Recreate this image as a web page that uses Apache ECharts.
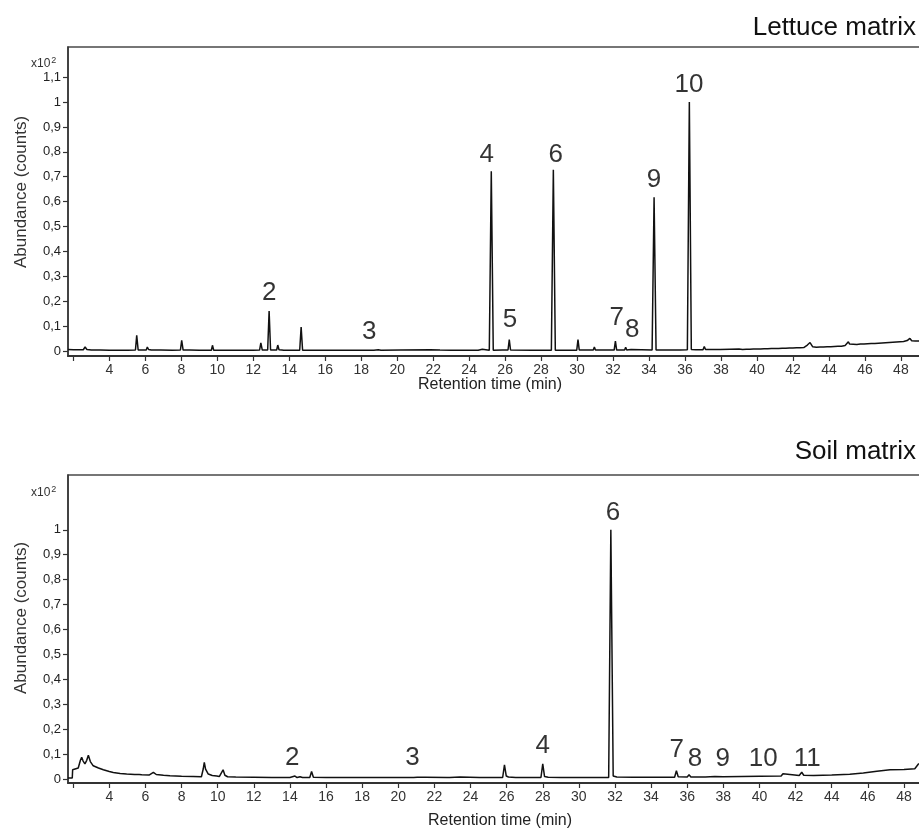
<!DOCTYPE html>
<html>
<head>
<meta charset="utf-8">
<script src="https://cdn.jsdelivr.net/npm/echarts@6/dist/echarts.min.js"></script>
<style>
html,body{margin:0;padding:0;background:#fff;}
#chart{width:919px;height:829px;}
</style>
</head>
<body>
<div id="chart"></div>
<script>
// ---------- DATA ----------
const panelTitles = ['Lettuce matrix', 'Soil matrix'];
const xAxisTitle = 'Retention time (min)';
const yAxisTitle = 'Abundance (counts)';
const xTickValues = [2,4,6,8,10,12,14,16,18,20,22,24,26,28,30,32,34,36,38,40,42,44,46,48];
const xLabelValues = [4,6,8,10,12,14,16,18,20,22,24,26,28,30,32,34,36,38,40,42,44,46,48];
const yTickValuesTop = [0,0.1,0.2,0.3,0.4,0.5,0.6,0.7,0.8,0.9,1,1.1];
const yTickValuesBottom = [0,0.1,0.2,0.3,0.4,0.5,0.6,0.7,0.8,0.9,1];

// Lettuce chromatogram [time (min), abundance x10^2]
const lettuceTrace = [
[1.70,0.006],[2.0,0.005],[2.3,0.005],[2.55,0.005],[2.65,0.016],[2.75,0.006],[3.0,0.004],[3.5,0.004],[4.0,0.003],[4.5,0.003],[5.0,0.003],
[5.45,0.004],[5.52,0.063],[5.6,0.004],[6.05,0.004],[6.11,0.016],[6.18,0.006],[6.26,0.011],[6.33,0.004],[6.72,0.004],[6.78,0.011],[6.85,0.004],
[7.5,0.003],[7.95,0.004],[8.02,0.043],[8.1,0.004],[8.33,0.004],[8.39,0.012],[8.46,0.004],[9.0,0.003],[9.67,0.003],[9.73,0.023],[9.8,0.003],
[10.5,0.003],[11.0,0.003],[11.5,0.003],[12.0,0.003],[12.35,0.004],[12.42,0.033],[12.5,0.004],[12.8,0.004],[12.88,0.161],[12.96,0.004],
[13.3,0.004],[13.36,0.024],[13.43,0.005],[13.58,0.004],[13.64,0.008],[13.7,0.003],[14.1,0.003],[14.58,0.003],[14.66,0.096],[14.74,0.003],
[15.5,0.003],[16.5,0.003],[16.55,0.004],[16.6,0.003],[17.5,0.003],[18.5,0.003],[18.59,0.007],[18.7,0.003],[18.95,0.005],[19.1,0.003],
[20.2,0.004],[20.3,0.003],[21.83,0.005],[21.9,0.003],[22.38,0.004],[22.45,0.003],[23.05,0.003],[23.13,0.009],[23.2,0.003],[24.5,0.003],
[24.73,0.007],[24.8,0.003],[25.12,0.003],[25.23,0.722],[25.34,0.003],[25.85,0.004],[25.9,0.010],[25.97,0.004],[26.16,0.004],[26.23,0.046],[26.3,0.004],
[27.5,0.003],[28.57,0.003],[28.68,0.728],[28.79,0.003],[29.98,0.003],[30.05,0.046],[30.12,0.004],[30.58,0.004],[30.63,0.010],[30.7,0.004],
[30.9,0.004],[30.96,0.016],[31.02,0.004],[32.06,0.004],[32.13,0.040],[32.2,0.004],[32.64,0.004],[32.7,0.015],[32.76,0.004],[33.0,0.006],[33.1,0.004],
[34.17,0.004],[34.28,0.618],[34.39,0.004],[35.6,0.004],[35.67,0.007],[35.74,0.004],[36.13,0.005],[36.24,1.0],[36.35,0.006],[36.6,0.005],
[37.0,0.005],[37.07,0.018],[37.14,0.006],[37.82,0.006],[37.89,0.012],[37.96,0.006],[38.5,0.007],
[39.0,0.008],[39.1,0.011],[39.2,0.006],[39.3,0.010],[39.4,0.007],[39.5,0.011],[39.6,0.007],[39.7,0.012],[39.8,0.008],[39.9,0.012],
[40.0,0.008],[40.1,0.013],[40.2,0.008],[40.3,0.013],[40.4,0.009],[40.5,0.013],[40.6,0.009],[40.7,0.014],[40.8,0.010],[40.9,0.014],
[41.0,0.010],[41.1,0.015],[41.2,0.010],[41.3,0.015],[41.4,0.011],[41.5,0.016],[41.6,0.011],[41.7,0.016],[41.8,0.012],[41.9,0.017],
[42.0,0.012],[42.1,0.017],[42.2,0.013],[42.3,0.018],[42.4,0.013],[42.5,0.018],[42.6,0.014],[42.7,0.020],[42.8,0.024],[42.9,0.030],
[42.95,0.034],[43.0,0.026],[43.1,0.017],[43.2,0.021],[43.3,0.015],[43.4,0.020],[43.5,0.016],[43.6,0.021],[43.7,0.016],[43.8,0.022],
[43.9,0.017],[44.0,0.022],[44.1,0.017],[44.2,0.023],[44.3,0.018],[44.4,0.023],[44.5,0.019],[44.6,0.024],[44.7,0.019],[44.8,0.025],
[44.9,0.022],[45.0,0.030],[45.08,0.037],[45.15,0.028],[45.25,0.022],[45.35,0.027],[45.45,0.021],[45.55,0.026],[45.65,0.022],[45.75,0.028],
[45.85,0.023],[45.95,0.028],[46.05,0.024],[46.15,0.029],[46.25,0.024],[46.35,0.030],[46.45,0.025],[46.55,0.030],[46.65,0.026],[46.75,0.031],
[46.85,0.026],[46.95,0.032],[47.05,0.027],[47.15,0.033],[47.25,0.028],[47.35,0.034],[47.45,0.029],[47.55,0.035],[47.65,0.030],[47.75,0.036],
[47.85,0.031],[47.95,0.037],[48.05,0.032],[48.15,0.038],[48.25,0.035],[48.35,0.042],[48.45,0.048],[48.5,0.051],[48.6,0.041],[48.7,0.046],
[48.8,0.040],[48.9,0.045],[49.0,0.040],[49.1,0.044],[49.2,0.041],[49.3,0.043]
];

// Soil chromatogram [time (min), abundance x10^2]
const soilTrace = [
[1.71,0.004],[1.95,0.004],[1.97,0.037],[2.28,0.044],[2.40,0.075],[2.47,0.087],[2.55,0.072],[2.65,0.061],[2.75,0.075],[2.84,0.095],[2.95,0.070],
[3.11,0.053],[3.4,0.044],[3.67,0.037],[4.0,0.030],[4.22,0.026],[4.6,0.022],[4.96,0.020],[5.4,0.018],[5.65,0.018],[5.72,0.021],[5.8,0.017],
[6.2,0.016],[6.44,0.027],[6.6,0.018],[7.0,0.015],[7.36,0.013],[8.0,0.011],[8.65,0.010],[9.1,0.009],[9.2,0.040],[9.26,0.067],[9.33,0.040],
[9.48,0.020],[9.7,0.014],[9.95,0.012],[10.09,0.010],[10.2,0.012],[10.3,0.037],[10.4,0.015],[10.55,0.009],[11.0,0.008],[12.0,0.007],[13.0,0.006],
[14.0,0.006],[14.1,0.006],[14.28,0.012],[14.4,0.006],[14.56,0.009],[14.7,0.006],[15.1,0.006],[15.2,0.030],[15.3,0.007],[16.0,0.006],[17.0,0.006],
[18.0,0.006],[19.0,0.006],[19.45,0.006],[19.54,0.012],[19.62,0.006],[20.5,0.006],[20.85,0.006],[20.93,0.012],[21.05,0.007],[21.3,0.007],
[21.39,0.015],[21.5,0.007],[22.7,0.006],[22.77,0.009],[22.85,0.006],[23.42,0.008],[23.5,0.006],[24.5,0.006],[25.0,0.006],[25.78,0.006],
[25.88,0.057],[25.98,0.012],[26.1,0.008],[26.5,0.006],[27.0,0.006],[27.9,0.006],[28.0,0.061],[28.1,0.010],[28.3,0.007],[29.0,0.006],
[30.0,0.006],[30.05,0.009],[30.1,0.006],[31.0,0.006],[31.65,0.006],[31.77,1.0],[31.9,0.012],[32.1,0.008],[33.0,0.007],[34.0,0.007],
[35.3,0.007],[35.4,0.033],[35.5,0.009],[36.0,0.008],[36.1,0.017],[36.2,0.008],[37.0,0.008],[37.53,0.010],[38.0,0.009],[39.0,0.010],
[40.0,0.011],[41.2,0.012],[41.3,0.021],[41.4,0.013],[42.2,0.014],[42.34,0.027],[42.45,0.015],[43.0,0.014],[44.0,0.016],[45.0,0.019],
[45.75,0.024],[46.5,0.031],[47.23,0.037],[48.0,0.038],[48.6,0.041],[48.8,0.060],[48.95,0.066],[49.2,0.068]
];

// Peak number labels [name, time, abundance position]
const lettuceLabels = [['2',12.88,0.234],['3',18.45,0.078],['4',24.98,0.787],['5',26.27,0.125],['6',28.81,0.787],
  ['7',32.2,0.133],['8',33.07,0.084],['9',34.28,0.687],['10',36.22,1.068]];
const soilLabels = [['2',14.13,0.084],['3',20.78,0.084],['4',28.0,0.134],['6',31.89,1.068],['7',35.42,0.118],
  ['8',36.43,0.081],['9',37.96,0.081],['10',40.21,0.081],['11',42.65,0.081]];

// ---------- CHART ----------
const FONT = '"Liberation Sans", Arial, sans-serif';
const chart = echarts.init(document.getElementById('chart'), null, {renderer: 'canvas'});

function xAxisCfg(idx, min, max) {
  return {
    type: 'value', gridIndex: idx, min: min, max: max,
    axisLine: {show: true, onZero: false, lineStyle: {color: '#333', width: 2}},
    axisTick: {show: true, inside: false, length: 5, customValues: xTickValues, lineStyle: {color: '#333', width: 1.2}},
    axisLabel: {show: true, customValues: xLabelValues, margin: 7, color: '#333', fontSize: 14, fontFamily: FONT},
    splitLine: {show: false}
  };
}
function yAxisCfg(idx, min, max, ticks) {
  return {
    type: 'value', gridIndex: idx, min: min, max: max,
    axisLine: {show: true, onZero: false, lineStyle: {color: '#333', width: 1.5}},
    axisTick: {show: true, length: 5, customValues: ticks, lineStyle: {color: '#333', width: 1.2}},
    axisLabel: {show: true, customValues: ticks, margin: 7, color: '#222', fontSize: 13, fontFamily: FONT,
      formatter: v => String(v).replace('.', ',')},
    splitLine: {show: false}
  };
}
function labelData(arr) {
  return arr.map(d => ({name: d[0], value: [d[1], d[2]]}));
}
function labelSeries(idx, arr) {
  return {
    type: 'scatter', xAxisIndex: idx, yAxisIndex: idx, symbolSize: 1, silent: true,
    itemStyle: {color: 'rgba(0,0,0,0)'},
    data: labelData(arr),
    label: {show: true, position: 'inside', formatter: '{b}', color: '#000', fontSize: 26, fontFamily: FONT}
  };
}
function traceSeries(idx, data) {
  return {
    type: 'line', xAxisIndex: idx, yAxisIndex: idx, data: data, symbol: 'none', silent: true,
    lineStyle: {color: '#111', width: 1.5}
  };
}

const option = {
  animation: false,
  backgroundColor: '#fff',
  grid: [
    {left: 68, top: 47, width: 857, height: 309, show: true, borderColor: '#4a4a4a', borderWidth: 1.5, backgroundColor: 'transparent', outerBoundsMode: 'none', containLabel: false},
    {left: 68, top: 475, width: 857, height: 308, show: true, borderColor: '#4a4a4a', borderWidth: 1.5, backgroundColor: 'transparent', outerBoundsMode: 'none', containLabel: false}
  ],
  xAxis: [xAxisCfg(0, 1.70, 49.34), xAxisCfg(1, 1.713, 49.165)],
  yAxis: [yAxisCfg(0, -0.02, 1.221, yTickValuesTop), yAxisCfg(1, -0.016, 1.22, yTickValuesBottom)],
  series: [
    traceSeries(0, lettuceTrace),
    traceSeries(1, soilTrace),
    labelSeries(0, lettuceLabels),
    labelSeries(1, soilLabels)
  ],
  graphic: [
    {type: 'text', right: 3, top: 15, style: {text: panelTitles[0], font: '26px ' + FONT, fill: '#111'}},
    {type: 'text', right: 3, top: 439, style: {text: panelTitles[1], font: '26px ' + FONT, fill: '#111'}},
    {type: 'text', x: 490, y: 385, style: {text: xAxisTitle, font: '16px ' + FONT, fill: '#222', align: 'center', verticalAlign: 'middle'}},
    {type: 'text', x: 500, y: 821, style: {text: xAxisTitle, font: '16px ' + FONT, fill: '#222', align: 'center', verticalAlign: 'middle'}},
    {type: 'text', x: 21, y: 192, rotation: Math.PI / 2, style: {text: yAxisTitle, font: '17px ' + FONT, fill: '#333', align: 'center', verticalAlign: 'middle'}},
    {type: 'text', x: 21, y: 618, rotation: Math.PI / 2, style: {text: yAxisTitle, font: '17px ' + FONT, fill: '#333', align: 'center', verticalAlign: 'middle'}},
    {type: 'text', x: 31, y: 56, style: {text: 'x10{s|2}', font: '12px ' + FONT, fill: '#333',
      rich: {s: {fontSize: 9, fontFamily: FONT, fill: '#333', verticalAlign: 'top', padding: [0, 0, 6, 1]}}}},
    {type: 'text', x: 31, y: 485, style: {text: 'x10{s|2}', font: '12px ' + FONT, fill: '#333',
      rich: {s: {fontSize: 9, fontFamily: FONT, fill: '#333', verticalAlign: 'top', padding: [0, 0, 6, 1]}}}}
  ]
};
chart.setOption(option);
</script>
</body>
</html>
